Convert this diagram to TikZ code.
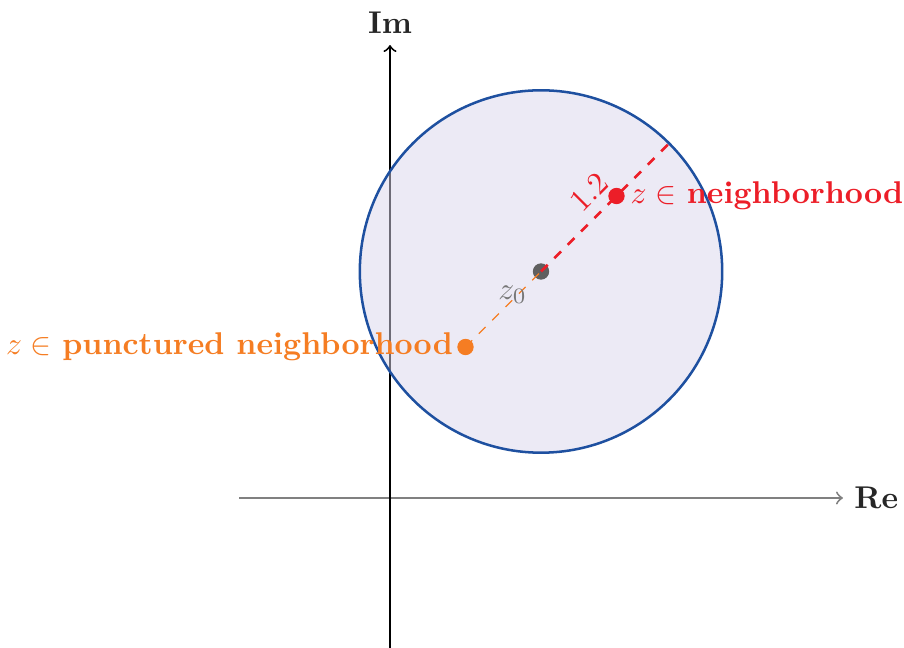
\documentclass[tikz,border=0pt]{standalone}
\usetikzlibrary{positioning}
\definecolor{cirkelblauw}{RGB}{30,80,160}
\definecolor{cirkelvul}{RGB}{218,214,236}
\definecolor{puntrood}{RGB}{236,30,40}
\definecolor{puntoranje}{RGB}{245,125,35}
\definecolor{puntgrijs}{RGB}{95,95,95}
\begin{document}
\begin{tikzpicture}[x=1.687cm, y=1.687cm,
    punt/.style={circle, inner sep=0pt, minimum size=5.2pt}]
    \useasboundingbox (-2.583,-0.993) rectangle (3.404,3.298);

    % Assen
    \coordinate (Xl) at (-1,0);
    \coordinate (Xr) at (3,0);
    \coordinate (Yb) at (0,-1);
    \coordinate (Yt) at (0,3);
    \draw[->, semithick, gray] (Xl) -- (Xr) node[right, text=black!85] {\textbf{Re}};
    \draw[->, semithick] (Yb) -- (Yt) node[above, text=black!85] {\textbf{Im}};

    % Omgeving
    \coordinate (C) at (1,1.5);
    \draw[thick, cirkelblauw, fill=cirkelvul, fill opacity=0.5] (C) circle (1.2);
    \coordinate (R) at ([shift={(45:1.2)}]C);

    % Punten
    \node[punt, fill=puntgrijs] (z0) at (C) {};
    \node[punt, fill=puntrood] (zN) at (1.5,2) {};
    \node[punt, fill=puntoranje] (zP) at (0.5,1) {};

    % Stralen
    \draw[dashed, thin, puntoranje] (zP.center) -- (z0.center);
    \draw[dashed, thick, puntrood] (z0.center) -- (R) node[midway, above, sloped] {1.2};

    % Labels
    \node[below left=-1.5pt of z0, text=puntgrijs!85] (lz0) {$z_0$};
    \node[right=0pt of zN, inner sep=1.5pt, text=puntrood] (lN) {$z\in$ \textbf{neighborhood}};
    \node[left=0pt of zP, inner sep=1pt, text=puntoranje] (lP) {$z\in$ \textbf{punctured neighborhood}};
\end{tikzpicture}
\end{document}
